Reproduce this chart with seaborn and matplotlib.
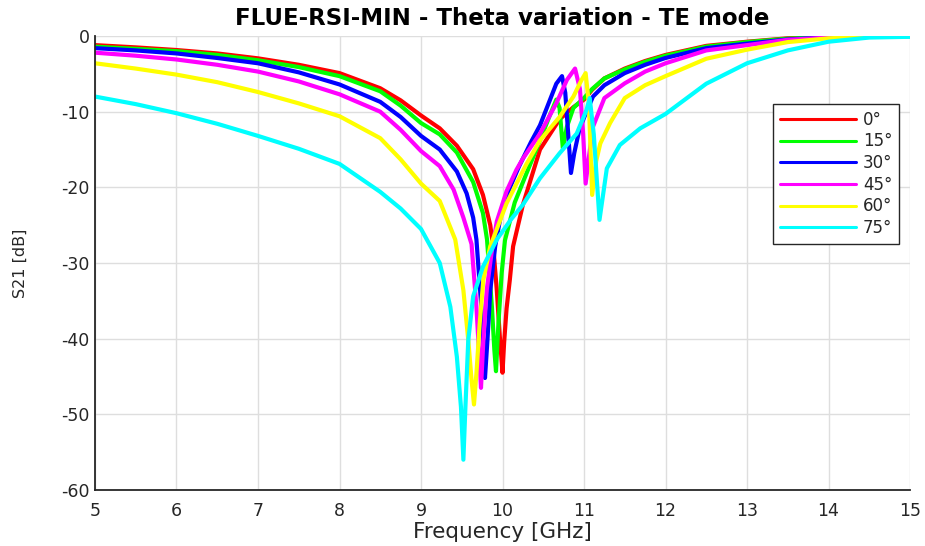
import matplotlib
matplotlib.use("Agg")
import matplotlib.pyplot as plt
import seaborn as sns

# -----------------------------
# Style Settings
sns.set_style("whitegrid")
plt.rcParams['font.family'] = ['DejaVu Sans']
plt.rcParams['axes.unicode_minus'] = False

# -----------------------------
# Data (frequency in GHz, S21 in dB)
angles = ["0°", "15°", "30°", "45°", "60°", "75°"]
colors = ["#ff0000", "#00ff00", "#0000ff", "#ff00ff", "#ffff00", "#00ffff"]

freq_0 = [5.0, 5.5, 6.0, 6.5, 7.0, 7.5, 8.0, 8.5, 8.75, 9.0, 9.23, 9.44, 9.64,
          9.76, 9.85, 9.89, 9.93, 9.97, 10.0, 10.02, 10.05, 10.09, 10.13, 10.25,
          10.46, 10.7, 10.87, 11.0, 11.1, 11.25, 11.5, 11.75, 12.0, 12.5, 13.0,
          13.5, 14.0, 14.5, 15.0]
s21_0 = [-1.2, -1.5, -1.85, -2.3, -2.95, -3.8, -4.9, -6.9, -8.5, -10.5, -12.2,
         -14.5, -17.6, -21.0, -25.0, -28.3, -33.6, -40.2, -44.5, -40.5, -36.0,
         -32.2, -27.8, -22.3, -15.0, -11.0, -9.4, -8.4, -7.1, -5.6, -4.3, -3.3,
         -2.5, -1.3, -0.75, -0.3, -0.1, 0.0, 0.0]

freq_15 = [5.0, 5.5, 6.0, 6.5, 7.0, 7.5, 8.0, 8.5, 8.75, 9.0, 9.23, 9.44, 9.64,
           9.76, 9.81, 9.87, 9.9, 9.92, 9.95, 9.99, 10.03, 10.15, 10.3, 10.46,
           10.58, 10.66, 10.7, 10.74, 10.79, 10.87, 11.0, 11.1, 11.25, 11.5,
           11.75, 12.0, 12.5, 13.0, 13.5, 14.0, 14.5, 15.0]
s21_15 = [-1.4, -1.7, -2.0, -2.5, -3.2, -4.1, -5.3, -7.3, -9.2, -11.5, -13.0,
          -15.4, -19.3, -23.4, -26.9, -35.8, -41.5, -44.3, -38.0, -31.3, -27.0,
          -22.0, -18.0, -13.8, -10.5, -8.4, -9.5, -14.8, -12.0, -9.5, -8.2,
          -7.0, -5.6, -4.4, -3.4, -2.6, -1.4, -0.8, -0.35, -0.1, 0.0, 0.0]

freq_30 = [5.0, 5.5, 6.0, 6.5, 7.0, 7.5, 8.0, 8.5, 8.75, 9.0, 9.23, 9.44, 9.56,
           9.64, 9.68, 9.74, 9.77, 9.785, 9.815, 9.85, 9.91, 10.0, 10.1, 10.2,
           10.35, 10.46, 10.58, 10.66, 10.73, 10.77, 10.8, 10.84, 10.88, 10.94,
           11.0, 11.11, 11.25, 11.5, 11.75, 12.0, 12.5, 13.0, 13.5, 14.0, 14.5,
           15.0]
s21_30 = [-1.6, -1.9, -2.3, -2.9, -3.6, -4.8, -6.4, -8.7, -10.7, -13.2, -15.0,
          -17.9, -20.8, -24.0, -26.9, -35.8, -41.5, -45.2, -40.2, -33.6, -27.8,
          -22.5, -19.8, -17.3, -14.0, -11.8, -8.5, -6.3, -5.3, -7.5, -12.0,
          -18.1, -15.5, -12.5, -10.8, -8.0, -6.5, -4.9, -3.8, -2.9, -1.6, -1.0,
          -0.45, -0.15, 0.0, 0.0]

freq_45 = [5.0, 5.5, 6.0, 6.5, 7.0, 7.5, 8.0, 8.5, 8.75, 9.0, 9.23, 9.4, 9.52,
           9.62, 9.68, 9.715, 9.736, 9.765, 9.806, 9.87, 9.93, 10.05, 10.17,
           10.25, 10.46, 10.66, 10.79, 10.89, 10.95, 10.99, 11.02, 11.06, 11.11,
           11.25, 11.5, 11.75, 12.0, 12.5, 13.0, 13.5, 14.0, 14.5, 15.0]
s21_45 = [-2.2, -2.6, -3.1, -3.8, -4.7, -6.0, -7.7, -10.0, -12.4, -15.2, -17.2,
          -20.3, -24.0, -27.5, -35.8, -42.4, -46.5, -40.2, -33.6, -28.3, -24.5,
          -20.5, -17.7, -16.2, -12.9, -8.9, -5.8, -4.3, -7.0, -13.0, -19.5,
          -16.0, -12.0, -8.2, -6.25, -4.7, -3.6, -1.9, -1.2, -0.5, -0.2, -0.05,
          0.0]

freq_60 = [5.0, 5.5, 6.0, 6.5, 7.0, 7.5, 8.0, 8.5, 8.75, 9.0, 9.23, 9.42, 9.52,
           9.58, 9.62, 9.65, 9.68, 9.72, 9.765, 9.85, 10.05, 10.29, 10.46, 10.7,
           10.87, 10.97, 11.02, 11.06, 11.1, 11.15, 11.2, 11.32, 11.5, 11.75,
           12.0, 12.5, 13.0, 13.5, 14.0, 14.5, 15.0]
s21_60 = [-3.6, -4.3, -5.1, -6.1, -7.4, -8.9, -10.6, -13.5, -16.3, -19.5,
          -21.8, -26.9, -33.6, -40.2, -45.4, -48.7, -44.6, -38.0, -32.2, -27.8,
          -22.1, -17.0, -13.8, -10.7, -8.0, -5.8, -4.9, -9.0, -21.0, -16.5,
          -14.2, -11.5, -8.2, -6.5, -5.3, -3.0, -1.8, -0.8, -0.3, -0.1, 0.0]

freq_75 = [5.0, 5.5, 6.0, 6.5, 7.0, 7.5, 8.0, 8.5, 8.75, 9.0, 9.23, 9.36, 9.44,
           9.49, 9.52, 9.545, 9.58, 9.64, 9.76, 9.93, 10.1, 10.25, 10.46, 10.7,
           10.91, 11.03, 11.07, 11.12, 11.19, 11.28, 11.44, 11.69, 12.0, 12.5,
           13.0, 13.5, 14.0, 14.5, 15.0]
s21_75 = [-8.0, -9.0, -10.2, -11.6, -13.2, -14.9, -16.9, -20.6, -22.8, -25.5,
          -30.0, -35.8, -42.4, -49.0, -56.0, -49.0, -40.2, -34.4, -30.5, -26.9,
          -24.3, -22.3, -18.8, -15.5, -12.9, -9.8, -8.2, -13.0, -24.3, -17.5,
          -14.4, -12.2, -10.3, -6.3, -3.6, -1.9, -0.75, -0.2, -0.1]

freqs = [freq_0, freq_15, freq_30, freq_45, freq_60, freq_75]
s21s = [s21_0, s21_15, s21_30, s21_45, s21_60, s21_75]

# -----------------------------
# Plot
fig = plt.figure(figsize=(9.25, 5.46), dpi=100)
ax = fig.add_axes([0.1027, 0.1026, 0.8811, 0.8314])

for f, s, name, c in zip(freqs, s21s, angles, colors):
    sns.lineplot(x=f, y=s, sort=False, estimator=None, color=c,
                 linewidth=3, label=name, ax=ax)

ax.set_xlim(5, 15)
ax.set_ylim(-60, 0)
ax.set_xticks(range(5, 16))
ax.set_yticks(range(-60, 1, 10))
ax.grid(True, color="#dedede", linewidth=1)
for side in ["top", "right"]:
    ax.spines[side].set_visible(False)
for side in ["left", "bottom"]:
    ax.spines[side].set_color("#262626")
    ax.spines[side].set_linewidth(1.3)
ax.tick_params(direction="in", length=5, width=1, colors="#262626",
               labelsize=12.5, labelcolor="#262626")
ax.tick_params(axis="x", pad=9)
ax.tick_params(axis="y", pad=4)

ax.set_title("FLUE-RSI-MIN - Theta variation - TE mode", fontsize=16.5,
             fontweight="bold", pad=8, color="black")
ax.set_xlabel("Frequency [GHz]", fontsize=15.5, color="#262626", labelpad=1)
ax.set_ylabel("S21 [dB]", fontsize=11.5, color="#262626", labelpad=24)

leg = ax.legend(loc="upper right", bbox_to_anchor=(0.9865, 0.850),
                borderaxespad=0, fontsize=12, handlelength=4.6, frameon=True,
                fancybox=False, borderpad=0.4, labelspacing=0.22,
                handletextpad=0.4)
leg.get_frame().set_edgecolor("#262626")
leg.get_frame().set_linewidth(1)
leg.get_frame().set_alpha(1)
for line in leg.get_lines():
    line.set_linewidth(2.2)

plt.savefig("out.png", dpi=100)
